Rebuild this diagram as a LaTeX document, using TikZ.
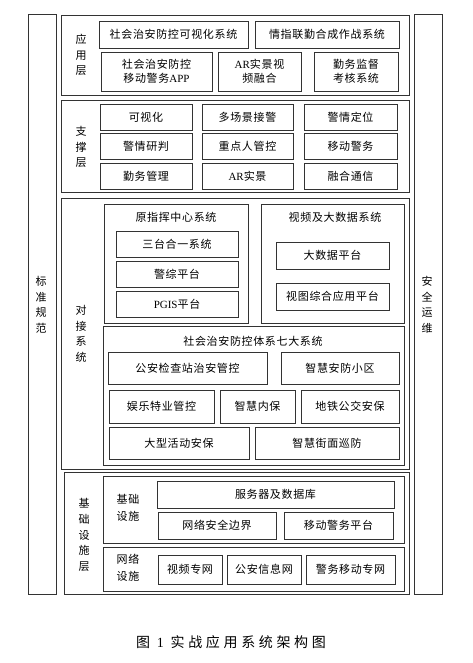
\documentclass[tikz,border=0pt]{standalone}
\usepackage{fontspec}
\setmainfont{Noto Sans CJK SC}[LetterSpace=6]
\newfontfamily\lat{Liberation Serif}
\newfontfamily\capfont{Noto Sans CJK SC}[LetterSpace=26]
\usepackage{tikz}
\usetikzlibrary{positioning}
\tikzset{
  frame/.style={draw=black!80, line width=0.7pt, inner sep=0pt},
  item/.style={frame, align=center, font=\fontsize{11}{14}\selectfont},
  layertxt/.style={align=center, inner sep=0pt, font=\fontsize{11}{15.6}\selectfont},
  subtxt/.style={align=center, inner sep=0pt, font=\fontsize{11}{17}\selectfont},
  titletxt/.style={inner sep=0pt, font=\fontsize{11}{14}\selectfont},
}

\begin{document}
\begin{tikzpicture}[x=1pt, y=-1pt]
  \useasboundingbox (0,0) rectangle (472,663);

  % Side bars
  \node[frame, minimum width=28, minimum height=580] (std) at (42,304) {};
  \node[layertxt] (stdtxt) at (41,305) {标\\准\\规\\范};
  \node[frame, minimum width=28, minimum height=580] (sec) at (428,304) {};
  \node[layertxt] (sectxt) at (427,305) {安\\全\\运\\维};

  % Application layer
  \node[frame, minimum width=348, minimum height=80] (app) at (235,55) {};
  \node[layertxt] (apptxt) at (81,55) {应\\用\\层};
  \node[item, minimum width=149, minimum height=27] (a1) at (173.5,34.5) {社会治安防控可视化系统};
  \node[item, minimum width=144, minimum height=27] (a2) at (327,34.5) {情指联勤合成作战系统};
  \node[item, minimum width=111, minimum height=39] (a3) at (156.5,71.5) {社会治安防控\\移动警务{\lat APP}};
  \node[item, minimum width=83, minimum height=39] (a4) at (259.5,71.5) {{\lat AR}实景视\\频融合};
  \node[item, minimum width=84, minimum height=39] (a5) at (356,71.5) {勤务监督\\考核系统};

  % Support layer
  \node[frame, minimum width=348, minimum height=92] (sup) at (235,146) {};
  \node[layertxt] (suptxt) at (81,147) {支\\撑\\层};
  \node[item, minimum width=92, minimum height=26] (s1) at (146,117.5) {可视化};
  \node[item, minimum width=91, minimum height=26] (s2) at (247.5,117.5) {多场景接警};
  \node[item, minimum width=93, minimum height=26] (s3) at (350.5,117.5) {警情定位};
  \node[item, minimum width=92, minimum height=26] (s4) at (146,146.5) {警情研判};
  \node[item, minimum width=91, minimum height=26] (s5) at (247.5,146.5) {重点人管控};
  \node[item, minimum width=93, minimum height=26] (s6) at (350.5,146.5) {移动警务};
  \node[item, minimum width=92, minimum height=26] (s7) at (146,176) {勤务管理};
  \node[item, minimum width=91, minimum height=26] (s8) at (247.5,176) {{\lat AR}实景};
  \node[item, minimum width=93, minimum height=26] (s9) at (350.5,176) {融合通信};

  % Docking layer
  \node[frame, minimum width=348, minimum height=271] (dock) at (235,333.5) {};
  \node[layertxt] (docktxt) at (81,334) {对\\接\\系\\统};
  \node[frame, minimum width=144, minimum height=119] (cmd) at (176,263.5) {};
  \node[titletxt] (cmdtxt) at (176,217) {原指挥中心系统};
  \node[item, minimum width=122, minimum height=26] (c1) at (177,244) {三台合一系统};
  \node[item, minimum width=122, minimum height=26] (c2) at (177,274) {警综平台};
  \node[item, minimum width=122, minimum height=26] (c3) at (177,304) {{\lat PGIS}平台};
  \node[frame, minimum width=143, minimum height=119] (vid) at (332.5,263.5) {};
  \node[titletxt] (vidtxt) at (335,217) {视频及大数据系统};
  \node[item, minimum width=113, minimum height=27] (v1) at (332.5,255.5) {大数据平台};
  \node[item, minimum width=113, minimum height=27] (v2) at (332.5,296.5) {视图综合应用平台};
  \node[frame, minimum width=301, minimum height=139] (seven) at (253.5,395.5) {};
  \node[titletxt] (seventxt) at (253,341) {社会治安防控体系七大系统};
  \node[item, minimum width=159, minimum height=32] (g1) at (187.5,368) {公安检查站治安管控};
  \node[item, minimum width=118, minimum height=32] (g2) at (340,368) {智慧安防小区};
  \node[item, minimum width=105, minimum height=33] (g3) at (161.5,406.5) {娱乐特业管控};
  \node[item, minimum width=75, minimum height=33] (g4) at (257.5,406.5) {智慧内保};
  \node[item, minimum width=98, minimum height=33] (g5) at (350,406.5) {地铁公交安保};
  \node[item, minimum width=140, minimum height=32] (g6) at (179,443) {大型活动安保};
  \node[item, minimum width=144, minimum height=32] (g7) at (327,443) {智慧街面巡防};

  % Infrastructure layer
  \node[frame, minimum width=345, minimum height=122] (inf) at (236.5,533) {};
  \node[layertxt] (inftxt) at (84,535) {基\\础\\设\\施\\层};
  \node[frame, minimum width=301, minimum height=67] (base) at (253.5,509.5) {};
  \node[subtxt] (basetxt) at (128,508) {基础\\设施};
  \node[item, minimum width=237, minimum height=27] (b1) at (275.5,494.5) {服务器及数据库};
  \node[item, minimum width=118, minimum height=27] (b2) at (217,525.5) {网络安全边界};
  \node[item, minimum width=109, minimum height=27] (b3) at (338.5,525.5) {移动警务平台};
  \node[frame, minimum width=301, minimum height=44] (net) at (253.5,569) {};
  \node[subtxt] (nettxt) at (128,568) {网络\\设施};
  \node[item, minimum width=64, minimum height=29] (n1) at (190,569.5) {视频专网};
  \node[item, minimum width=74, minimum height=29] (n2) at (264,569.5) {公安信息网};
  \node[item, minimum width=89, minimum height=29] (n3) at (350.5,569.5) {警务移动专网};

  % Caption
  \node[inner sep=0pt, font=\fontsize{14}{16}\selectfont\capfont] (cap) at (231,642) {图 {\lat 1} 实战应用系统架构图};
\end{tikzpicture}
\end{document}
